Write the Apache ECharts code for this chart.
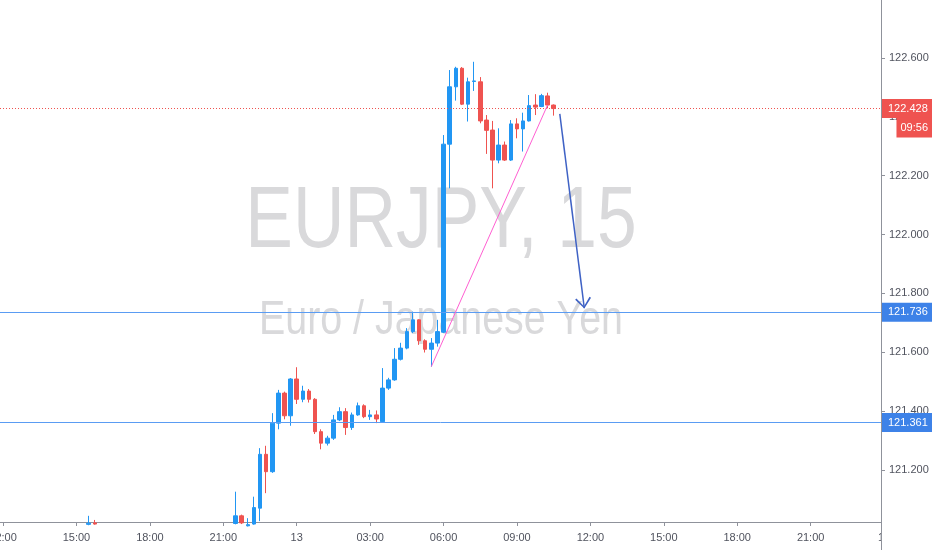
<!DOCTYPE html>
<html>
<head>
<meta charset="utf-8">
<script src="https://cdn.jsdelivr.net/npm/echarts@6/dist/echarts.min.js"></script>
<style>
html,body{margin:0;padding:0;background:#ffffff;}
#chart{width:932px;height:550px;}
</style>
</head>
<body>
<div id="chart"></div>
<script>
// ---------- DATA ----------
const symbolTitle = 'EURJPY, 15';
const symbolName = 'Euro / Japanese Yen';

// 15-minute bar slots shown on the time axis: day 12 12:00 -> day 13 23:45
const sessionDays = [12, 13];
const firstHourOfDay = {12: 12, 13: 0};
const minuteSlots = ['00', '15', '30', '45'];

// candles (time, open, close, low, high)
const candleTimes = ['12 15:30','12 15:45','12 21:30','12 21:45','12 22:00','12 22:15','12 22:30','12 22:45','12 23:00','12 23:15','12 23:30','12 23:45',
  '13 00:00','13 00:15','13 00:30','13 00:45','13 01:00','13 01:15','13 01:30','13 01:45','13 02:00','13 02:15','13 02:30','13 02:45',
  '13 03:00','13 03:15','13 03:30','13 03:45','13 04:00','13 04:15','13 04:30','13 04:45','13 05:00','13 05:15','13 05:30','13 05:45',
  '13 06:00','13 06:15','13 06:30','13 06:45','13 07:00','13 07:15','13 07:30','13 07:45','13 08:00','13 08:15','13 08:30','13 08:45',
  '13 09:00','13 09:15','13 09:30','13 09:45','13 10:00','13 10:15','13 10:30'];
const opens = [121.015,121.020,121.018,121.044,121.010,121.016,121.070,121.253,121.194,121.359,121.461,121.384,
  121.509,121.440,121.468,121.440,121.330,121.291,121.308,121.370,121.398,121.344,121.387,121.418,
  121.381,121.387,121.364,121.478,121.506,121.576,121.614,121.670,121.710,121.639,121.610,121.631,
  121.668,122.307,122.502,122.565,122.443,122.520,122.519,122.389,122.355,122.253,122.304,122.253,
  122.376,122.359,122.386,122.440,122.435,122.471,122.440];
const closes = [121.019,121.016,121.044,121.020,121.014,121.072,121.253,121.194,121.359,121.461,121.384,121.509,
  121.440,121.468,121.440,121.330,121.291,121.308,121.370,121.398,121.344,121.387,121.418,121.381,
  121.387,121.373,121.478,121.506,121.576,121.614,121.670,121.710,121.639,121.610,121.631,121.670,
  122.307,122.502,122.565,122.443,122.519,122.522,122.386,122.354,122.253,122.304,122.253,122.376,
  122.359,122.386,122.438,122.433,122.472,122.440,122.428];
const lows = [121.012,121.014,121.015,121.016,121.008,121.014,121.026,121.121,121.190,121.338,121.372,121.350,
  121.424,121.430,121.429,121.322,121.270,121.283,121.302,121.366,121.319,121.336,121.384,121.376,
  121.370,121.359,121.360,121.472,121.503,121.572,121.610,121.665,121.625,121.599,121.551,121.619,
  121.665,122.157,122.455,122.440,122.384,122.488,122.378,122.274,122.157,122.242,122.250,122.250,
  122.327,122.282,122.384,122.406,122.433,122.429,122.404];
const highs = [121.044,121.030,121.126,121.048,121.036,121.109,121.274,121.282,121.393,121.472,121.466,121.512,
  121.549,121.486,121.475,121.444,121.338,121.316,121.387,121.413,121.410,121.395,121.429,121.423,
  121.404,121.402,121.546,121.513,121.614,121.632,121.682,121.738,121.712,121.644,121.648,121.710,
  122.338,122.559,122.570,122.569,122.533,122.587,122.535,122.406,122.386,122.361,122.316,122.389,
  122.395,122.414,122.474,122.477,122.478,122.482,122.442];

const priceTicks = [121.2, 121.4, 121.6, 121.8, 122.0, 122.2, 122.4, 122.6];
const priceMin = 121.023;
const priceMax = 122.797;
const lastPrice = 122.428;
const barCountdown = '09:56';
const levelLines = [121.736, 121.361];
// drawings, in (bar time / bar index, price)
const trendLine = [['13 05:30', 121.551], ['13 10:15', 122.440]];
const arrowLine = [[90.6, 122.410], [94.6, 121.750]];

// ---------- BUILD ----------
const pad = n => (n < 10 ? '0' : '') + n;
const categories = [];
sessionDays.forEach(d => {
  for (let h = firstHourOfDay[d]; h < 24; h++) {
    minuteSlots.forEach(m => categories.push(d + ' ' + pad(h) + ':' + m));
  }
});
const candleData = categories.map(c => {
  const k = candleTimes.indexOf(c);
  return k < 0 ? '-' : [opens[k], closes[k], lows[k], highs[k]];
});

const FONT = '"Liberation Sans", Arial, sans-serif';
const UP = '#2196f3';
const DOWN = '#ef5350';
const LEVEL = '#5a9cf3';
const LEVEL_LABEL = '#3d82e8';
const AXIS = '#8f929b';
const TEXT = '#50535e';

const boxLabel = (bg, text) => ({
  show: true, position: 'end', distance: 1, formatter: text,
  backgroundColor: bg, color: '#ffffff', padding: [4, 5, 3, 6],
  fontFamily: FONT, fontSize: 11, lineHeight: 12
});

const chevron = 'path://M8,-10 L8,-10 M0,10 L8,0 L16,10 L14.6,11 L8,2.4 L1.4,11 Z';

const drawings = [
  [
    { coord: trendLine[0], symbol: 'none', lineStyle: { color: '#ff5fd2', width: 1, type: 'solid' }, label: { show: false } },
    { coord: trendLine[1], symbol: 'none' }
  ],
  [
    { coord: arrowLine[0], symbol: 'none', lineStyle: { color: '#3f62c5', width: 1.5, type: 'solid' }, label: { show: false } },
    { coord: arrowLine[1], symbol: chevron, symbolSize: [16, 21] }
  ]
];

const chart = echarts.init(document.getElementById('chart'));
const option = {
  animation: false,
  backgroundColor: '#ffffff',
  grid: { left: 0, right: 51, top: 0, bottom: 28, containLabel: false, outerBoundsMode: 'none' },
  xAxis: {
    type: 'category', data: categories, boundaryGap: true,
    axisLine: { show: true, lineStyle: { color: AXIS, width: 1 } },
    axisTick: { show: true, alignWithLabel: true, length: 4, interval: (i) => i % 12 === 0, lineStyle: { color: AXIS } },
    axisLabel: {
      interval: (i) => i % 12 === 0, color: TEXT, fontFamily: FONT, fontSize: 11, margin: 10,
      formatter: (v) => { const p = v.split(' '); return p[1] === '00:00' ? p[0] : p[1]; }
    },
    splitLine: { show: false }
  },
  yAxis: {
    type: 'value', position: 'right', min: priceMin, max: priceMax, scale: true,
    axisLine: { show: true, lineStyle: { color: AXIS, width: 1 } },
    axisTick: { show: true, length: 4, customValues: priceTicks, lineStyle: { color: AXIS } },
    axisLabel: { customValues: priceTicks, formatter: (v) => Number(v).toFixed(3), color: TEXT, fontFamily: FONT, fontSize: 11, margin: 8 },
    splitLine: { show: false }
  },
  series: [{
    type: 'candlestick', data: candleData, barWidth: 4, clip: true,
    itemStyle: { color: UP, color0: DOWN, borderColor: UP, borderColor0: DOWN, borderWidth: 1 },
    markLine: { silent: true, symbol: 'none', animation: false, data: drawings }
  }],
  graphic: [
    { type: 'text', z: -10, x: 441, y: 223, scaleX: 0.82, silent: true,
      style: { text: symbolTitle, font: '87px ' + FONT, fill: '#d9d9db', align: 'center', verticalAlign: 'middle', textAlign: 'center', textVerticalAlign: 'middle' } },
    { type: 'text', z: -10, x: 441, y: 321, scaleX: 0.82, silent: true,
      style: { text: symbolName, font: '48px ' + FONT, fill: '#d9d9db', align: 'center', verticalAlign: 'middle', textAlign: 'center', textVerticalAlign: 'middle' } }
  ]
};
chart.setOption(option);

// positions read back from the chart's own scales
const band = chart.convertToPixel({ xAxisIndex: 0 }, 1) - chart.convertToPixel({ xAxisIndex: 0 }, 0);
const xLeft = chart.convertToPixel({ xAxisIndex: 0 }, 0) - band / 2;
const xRight = chart.convertToPixel({ xAxisIndex: 0 }, categories.length - 1) + band / 2;
const yOf = v => chart.convertToPixel({ yAxisIndex: 0 }, v);
const hLine = (v, lineStyle, label) => [
  { x: xLeft, y: yOf(v), symbol: 'none', lineStyle, label },
  { x: xRight, y: yOf(v), symbol: 'none' }
];
const plotBottom = yOf(priceMin);

option.series[0].markLine.data = [
  hLine(lastPrice, { color: DOWN, type: [1, 2], width: 1 }, boxLabel(DOWN, lastPrice.toFixed(3))),
  ...levelLines.map(v => hLine(v, { color: LEVEL, type: 'solid', width: 1 }, boxLabel(LEVEL_LABEL, v.toFixed(3)))),
  ...drawings
];
option.graphic = option.graphic.concat([
  { type: 'text', z: 40, x: xRight + band / 2, y: plotBottom + 16, silent: true,
    style: { text: '14', font: '11px ' + FONT, fill: TEXT, align: 'center', verticalAlign: 'middle', textAlign: 'center', textVerticalAlign: 'middle' } },
  { type: 'rect', z: 41, silent: true, shape: { x: xRight + 1, y: plotBottom + 1, width: 60, height: 40 }, style: { fill: '#ffffff' } },
  { type: 'line', z: 42, silent: true, shape: { x1: Math.round(xRight) + 0.5, y1: plotBottom, x2: Math.round(xRight) + 0.5, y2: 550 }, style: { stroke: AXIS, lineWidth: 1 } },
  { type: 'text', z: 60, x: 932, y: yOf(lastPrice) + 19, silent: true,
    style: { text: barCountdown, font: '11px ' + FONT, fill: '#ffffff', backgroundColor: DOWN, padding: [5, 4, 4, 4],
      align: 'right', verticalAlign: 'middle', textAlign: 'right', textVerticalAlign: 'middle' } }
]);
chart.setOption(option, true);
</script>
</body>
</html>
